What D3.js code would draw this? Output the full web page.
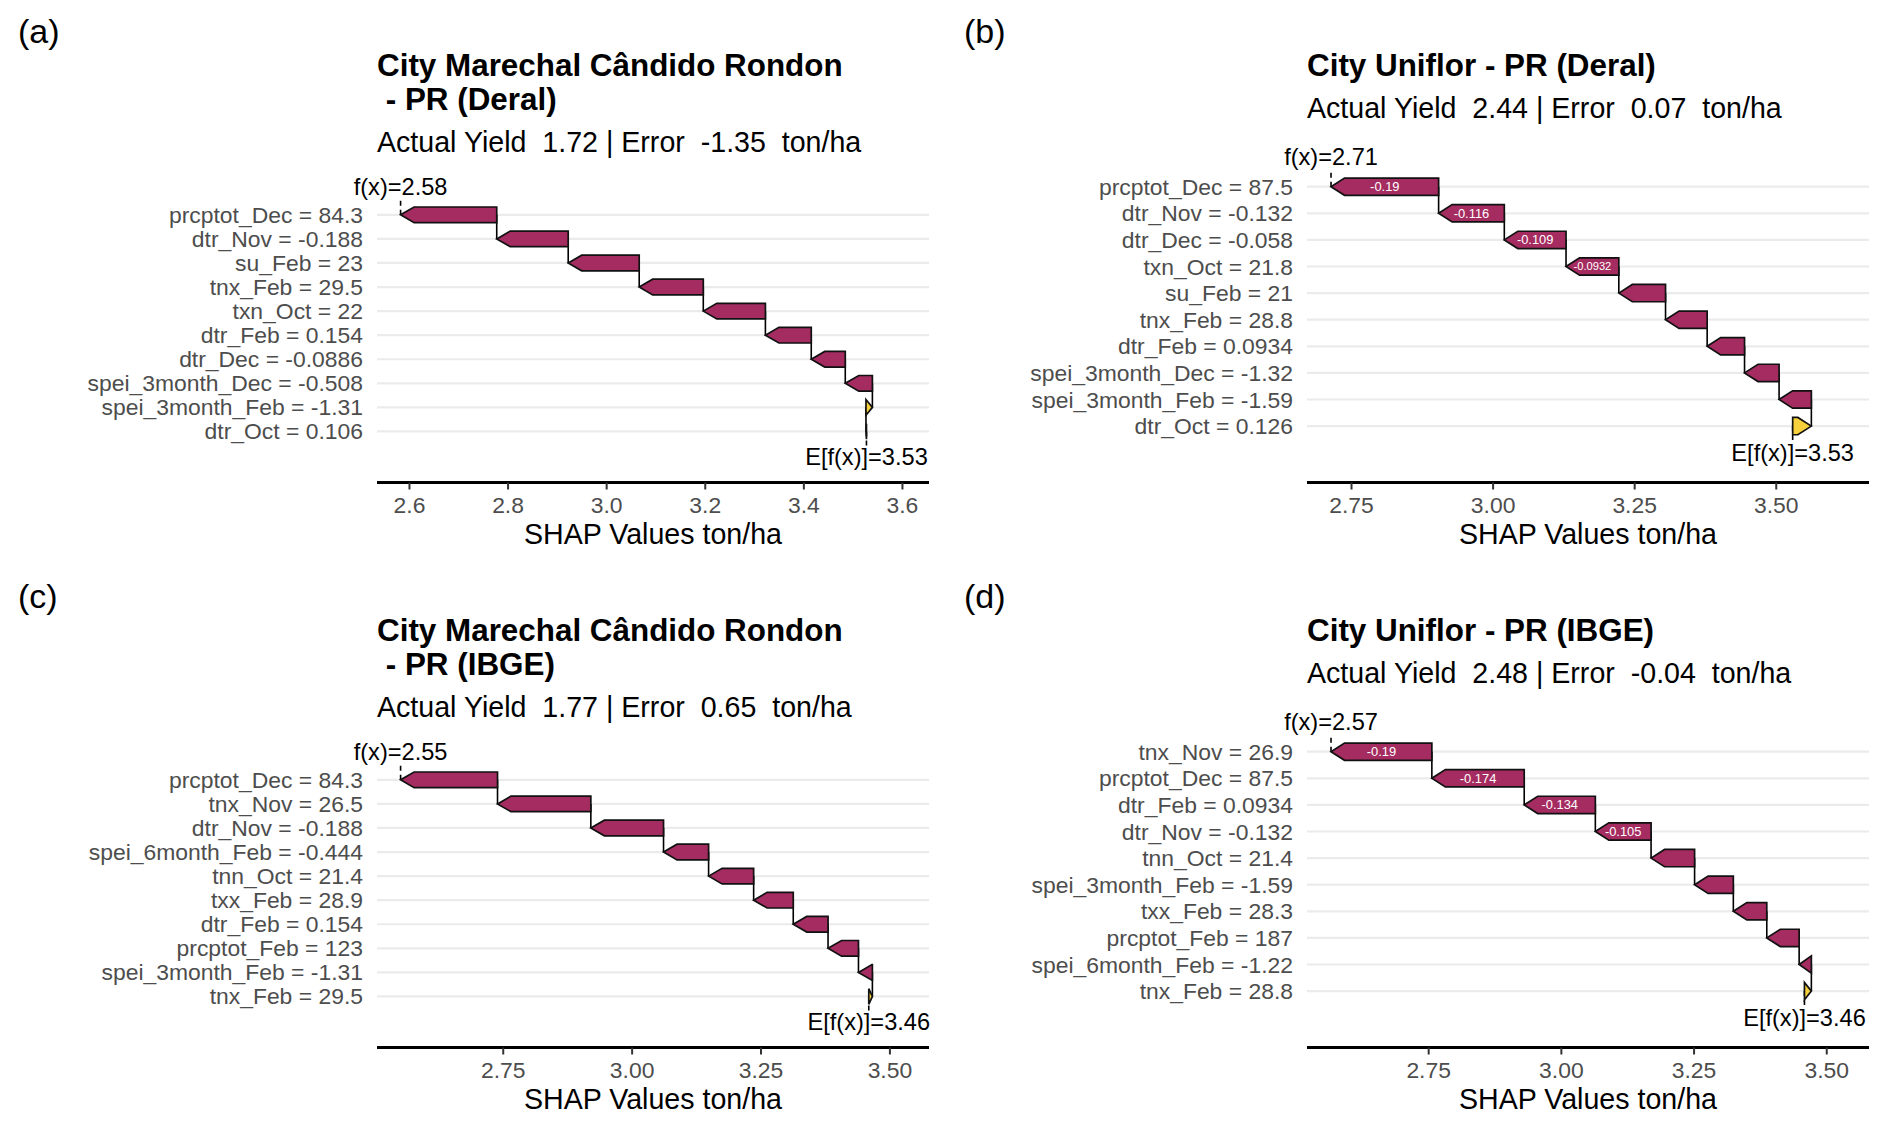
<!DOCTYPE html>
<html><head><meta charset="utf-8">
<script src="https://cdn.jsdelivr.net/npm/d3@7"></script>
<style>
body{margin:0;background:#fff}
svg{display:block}
text{font-family:"Liberation Sans",Arial,sans-serif}
</style>
</head><body>
<svg id="chart" width="1892" height="1130"></svg>
<script>
// ---------------- data ----------------
const panelTags = ["(a)", "(b)", "(c)", "(d)"];
const titles = [
  "City Marechal Cândido Rondon\n - PR (Deral)",
  "City Uniflor - PR (Deral)",
  "City Marechal Cândido Rondon\n - PR (IBGE)",
  "City Uniflor - PR (IBGE)"
];
const actualYield = ["1.72", "2.44", "1.77", "2.48"];
const errorValue = ["-1.35", "0.07", "0.65", "-0.04"];
const baseValue = [3.527, 3.529, 3.459, 3.458];   // E[f(x)]

// features listed top to bottom
const featuresA = ["prcptot_Dec","dtr_Nov","su_Feb","tnx_Feb","txn_Oct","dtr_Feb","dtr_Dec","spei_3month_Dec","spei_3month_Feb","dtr_Oct"];
const featValA  = [84.3, -0.188, 23, 29.5, 22, 0.154, -0.0886, -0.508, -1.31, 0.106];
const shapA     = [-0.195, -0.145, -0.144, -0.130, -0.126, -0.093, -0.069, -0.055, 0.013, -0.001];

const featuresB = ["prcptot_Dec","dtr_Nov","dtr_Dec","txn_Oct","su_Feb","tnx_Feb","dtr_Feb","spei_3month_Dec","spei_3month_Feb","dtr_Oct"];
const featValB  = [87.5, -0.132, -0.058, 21.8, 21, 28.8, 0.0934, -1.32, -1.59, 0.126];
const shapB     = [-0.190, -0.116, -0.109, -0.0932, -0.0825, -0.0735, -0.066, -0.061, -0.057, 0.033];

const featuresC = ["prcptot_Dec","tnx_Nov","dtr_Nov","spei_6month_Feb","tnn_Oct","txx_Feb","dtr_Feb","prcptot_Feb","spei_3month_Feb","tnx_Feb"];
const featValC  = [84.3, 26.5, -0.188, -0.444, 21.4, 28.9, 0.154, 123, -1.31, 29.5];
const shapC     = [-0.188, -0.181, -0.141, -0.0874, -0.0874, -0.0768, -0.0675, -0.059, -0.027, 0.007];

const featuresD = ["tnx_Nov","prcptot_Dec","dtr_Feb","dtr_Nov","tnn_Oct","spei_3month_Feb","txx_Feb","prcptot_Feb","spei_6month_Feb","tnx_Feb"];
const featValD  = [26.9, 87.5, 0.0934, -0.132, 21.4, -1.59, 28.3, 187, -1.22, 28.8];
const shapD     = [-0.190, -0.174, -0.134, -0.105, -0.082, -0.073, -0.063, -0.061, -0.023, 0.013];

const tickValues = [
  [2.6, 2.8, 3.0, 3.2, 3.4, 3.6],
  [2.75, 3.00, 3.25, 3.50],
  [2.75, 3.00, 3.25, 3.50],
  [2.75, 3.00, 3.25, 3.50]
];
const tickLabels = [
  ["2.6","2.8","3.0","3.2","3.4","3.6"],
  ["2.75","3.00","3.25","3.50"],
  ["2.75","3.00","3.25","3.50"],
  ["2.75","3.00","3.25","3.50"]
];
const labelledBars = [0, 4, 0, 4];   // number of top bars carrying value labels
const axisTitle = "SHAP Values ton/ha";

const features = [featuresA, featuresB, featuresC, featuresD];
const featVals = [featValA, featValB, featValC, featValD];
const shaps = [shapA, shapB, shapC, shapD];

// ---------------- layout ----------------
const origin = [[0,0],[946,0],[0,565],[946,565]];
const plotLeft = [377, 1307, 377, 1307];
const plotRight = [929, 1869, 929, 1869];
const NEG = "#a52c60", POS = "#f7d13d";
const fmt3 = v => d3.format(".3~g")(v).replace("\u2212", "-");

const svg = d3.select("#chart");

for (let p = 0; p < 4; p++) {
  const [ox, oy] = origin[p];
  const g = svg.append("g");
  const L = plotLeft[p], R = plotRight[p];
  const titleLines = titles[p].split("\n");
  const nL = titleLines.length;

  // tag
  g.append("text").attr("x", ox + 18).attr("y", oy + 43)
    .attr("font-size", 34).attr("fill", "#000").text(panelTags[p]);

  // title
  titleLines.forEach((t, k) => {
    g.append("text").attr("x", L).attr("y", oy + 76 + 34 * k)
      .attr("font-size", 31.4).attr("font-weight", "bold").attr("fill", "#000")
      .style("white-space", "pre").text(t);
  });
  const subBase = oy + 76 + 34 * (nL - 1) + 41.5;
  g.append("text").attr("x", L).attr("y", subBase)
    .attr("font-size", 28.6).attr("fill", "#000").style("white-space", "pre")
    .text(`Actual Yield  ${actualYield[p]} | Error  ${errorValue[p]}  ton/ha`);

  // waterfall data
  const m = features[p].length;
  const rows = [];
  let cum = baseValue[p];
  for (let k = m - 1; k >= 0; k--) {
    const from = cum, to = cum + shaps[p][k];
    rows[k] = {k, i: m - k, from, to, s: shaps[p][k],
               label: `${features[p][k]} = ${featVals[p][k]}`};
    cum = to;
  }
  const fx = cum;
  const ends = rows.flatMap(r => [r.from, r.to]);
  const lo = d3.min(ends), hi = d3.max(ends), rg = hi - lo;

  const axisY = oy + 482.5;
  const panelTop = oy + 130.3 + 33.5 * (nL - 1);
  const x = d3.scaleLinear().domain([lo - 0.05 * rg, hi + 0.12 * rg]).range([L, R]);
  const y = d3.scaleLinear().domain([-1.12, 12.12]).range([axisY, panelTop]);
  const step = y(0) - y(1);
  const bh = 0.65 * step;

  // grid
  g.append("g").selectAll("line").data(rows).join("line")
    .attr("x1", L).attr("x2", R)
    .attr("y1", d => y(d.i)).attr("y2", d => y(d.i))
    .attr("stroke", "#ebebeb").attr("stroke-width", 2.2);

  // y labels
  g.append("g").selectAll("text").data(rows).join("text")
    .attr("x", L - 14).attr("y", d => y(d.i) + 0.35 * 22.9)
    .attr("text-anchor", "end").attr("font-size", 22.9).attr("fill", "#4d4d4d")
    .text(d => d.label);

  // connectors
  g.append("g").selectAll("line").data(rows.slice(0, m - 1)).join("line")
    .attr("x1", d => x(d.from)).attr("x2", d => x(d.from))
    .attr("y1", d => y(d.i)).attr("y2", d => y(d.i - 1))
    .attr("stroke", "#000").attr("stroke-width", 1.6);

  // dashed annotation segments
  const segs = [{xv: fx, y1: m, y2: m + 0.62}, {xv: baseValue[p], y1: 1, y2: 0.38}];
  g.append("g").selectAll("line").data(segs).join("line")
    .attr("x1", d => x(d.xv)).attr("x2", d => x(d.xv))
    .attr("y1", d => y(d.y1)).attr("y2", d => y(d.y2))
    .attr("stroke", "#000").attr("stroke-width", 1.6).attr("stroke-dasharray", "5,4");

  // arrows
  const headW = 13.5;
  const arrowPath = d => {
    const a = x(d.from), b = x(d.to), cy = y(d.i), h2 = bh / 2;
    const dir = b < a ? 1 : -1;       // direction from tip back to body
    const head = Math.min(headW, Math.abs(b - a));
    const hx = b + dir * head;
    return `M${b},${cy}L${hx},${cy - h2}L${a},${cy - h2}L${a},${cy + h2}L${hx},${cy + h2}Z`;
  };
  g.append("g").selectAll("path").data(rows).join("path")
    .attr("d", arrowPath)
    .attr("fill", d => d.s < 0 ? NEG : POS)
    .attr("stroke", "#111").attr("stroke-width", 1.7).attr("stroke-linejoin", "miter");

  // value labels inside bars
  const lab = g.append("g").selectAll("text").data(rows.slice(0, labelledBars[p])).join("text")
    .attr("x", d => (x(d.from) + x(d.to)) / 2)
    .attr("y", d => y(d.i))
    .attr("text-anchor", "middle").attr("dominant-baseline", "central")
    .attr("fill", "#fff").attr("font-size", 12.9)
    .text(d => fmt3(d.s));
  lab.each(function(d) {
    const avail = Math.abs(x(d.from) - x(d.to)) - 15;
    const w = this.getComputedTextLength();
    if (w > avail) d3.select(this).attr("font-size", 12.9 * avail / w);
  });

  // f(x) and E[f(x)] annotations
  g.append("text").attr("x", x(fx)).attr("y", y(m + 0.62) - 0.2 * 23.6)
    .attr("text-anchor", "middle").attr("font-size", 23.6).attr("fill", "#000")
    .text(`f(x)=${fx.toFixed(2)}`);
  g.append("text").attr("x", x(baseValue[p])).attr("y", y(0.38) + 0.8 * 23.6)
    .attr("text-anchor", "middle").attr("font-size", 23.6).attr("fill", "#000")
    .text(`E[f(x)]=${baseValue[p].toFixed(2)}`);

  // x axis
  g.append("line").attr("x1", L).attr("x2", R).attr("y1", axisY).attr("y2", axisY)
    .attr("stroke", "#000").attr("stroke-width", 3);
  const tk = g.append("g").selectAll("g").data(tickValues[p]).join("g");
  tk.append("line").attr("x1", d => x(d)).attr("x2", d => x(d))
    .attr("y1", axisY).attr("y2", axisY + 7)
    .attr("stroke", "#333").attr("stroke-width", 2);
  tk.append("text").attr("x", d => x(d)).attr("y", axisY + 30.5)
    .attr("text-anchor", "middle").attr("font-size", 22.9).attr("fill", "#4d4d4d")
    .text((d, j) => tickLabels[p][j]);
  g.append("text").attr("x", (L + R) / 2).attr("y", axisY + 61.5)
    .attr("text-anchor", "middle").attr("font-size", 28.6).attr("fill", "#000")
    .text(axisTitle);
}
</script>
</body></html>
